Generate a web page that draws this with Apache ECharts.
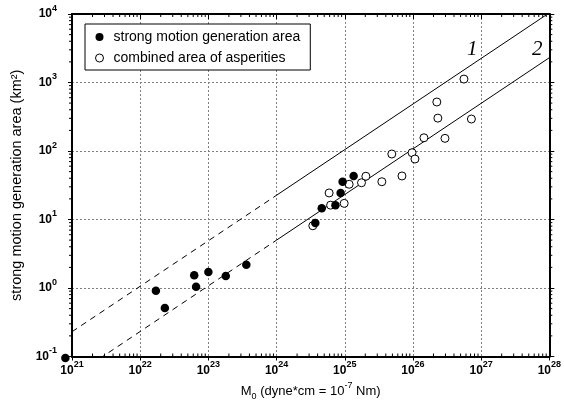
<!DOCTYPE html>
<html>
<head>
<meta charset="utf-8">
<script src="https://cdn.jsdelivr.net/npm/echarts@6/dist/echarts.min.js"></script>
<style>
html,body{margin:0;padding:0;background:#fff;}
#chart{width:564px;height:407px;}
</style>
</head>
<body>
<div id="chart"></div>
<script>
// ---- data ----
const seriesNames = ['strong motion generation area', 'combined area of asperities'];

// strong motion generation area (filled circles): [M0 dyne*cm, area km^2]
const smgaM0   = [8.0e20, 1.7e22, 2.3e22, 6.2e22, 6.6e22, 1.0e23, 1.8e23, 3.6e23, 3.7e24, 4.6e24, 7.3e24, 8.7e24, 9.3e24, 1.35e25];
const smgaArea = [0.095, 0.91, 0.51, 1.53, 1.04, 1.71, 1.50, 2.19, 8.9, 14.6, 16.2, 24.4, 35.6, 43.2];

// combined area of asperities (open circles)
const aspM0   = [3.4e24, 5.9e24, 6.2e24, 9.8e24, 1.16e25, 1.76e25, 2.04e25, 3.5e25, 4.9e25, 6.9e25, 9.7e25, 1.07e26, 1.45e26, 2.95e26, 2.32e26, 2.24e26, 7.2e26, 5.6e26];
const aspArea = [8.1, 24.4, 16.2, 17.2, 32.7, 34.4, 42.8, 35.6, 90.4, 43.2, 94.4, 76.4, 156, 153, 302, 519, 293, 1122];

// reference lines 1 and 2 (dashed part then solid part): [M0, area]
const line1Dashed = [[1e21, 0.23], [1e24, 22.6]];
const line1Solid  = [[1e24, 22.6], [1e28, 1.04e4]];
const line2Dashed = [[1e21, 0.05], [1e24, 5.0]];
const line2Solid  = [[1e24, 5.0], [1e28, 2300]];
const lineLabels = ['1', '2'];

// axes
const xMin = 1e21, xMax = 1e28;
const yMin = 1e-1, yMax = 1e4;
const xTitle = ['M', '0', ' (dyne*cm = 10', '-7', ' Nm)'];
const yTitle = 'strong motion generation area (km\u00B2)';

// ---- build ----
const FONT = 'Liberation Sans, Arial, sans-serif';
function zip(a, b) { return a.map((v, i) => [v, b[i]]); }
function minorTicks(lo, hi) {
  const out = [];
  for (let e = Math.round(Math.log10(lo)); e < Math.round(Math.log10(hi)); e++) {
    for (let m = 2; m <= 9; m++) out.push(m * Math.pow(10, e));
  }
  return out;
}
function powLabel(v) {
  const e = Math.round(Math.log10(v));
  return '{b|10}{s|' + e + '}';
}
const richTick = {
  b: { fontFamily: FONT, fontWeight: 'bold', fontSize: 12, color: '#000', lineHeight: 20, verticalAlign: 'middle' },
  s: { fontFamily: FONT, fontWeight: 'bold', fontSize: 9, color: '#000', lineHeight: 20, verticalAlign: 'top' }
};
const black = '#000';
const gridLine = { show: true, lineStyle: { color: '#808080', width: 1, type: [2, 2] } };

const chart = echarts.init(document.getElementById('chart'), null, { renderer: 'canvas' });

const minorX = minorTicks(xMin, xMax);
const minorY = minorTicks(yMin, yMax);

const option = {
  backgroundColor: '#fff',
  animation: false,
  textStyle: { fontFamily: FONT },
  grid: { left: 72, right: 13, top: 14, bottom: 50.5, containLabel: false },
  legend: {
    data: [
      { name: seriesNames[0], icon: 'circle', itemStyle: { color: black, borderWidth: 0 } },
      { name: seriesNames[1], icon: 'circle', itemStyle: { color: '#fff', borderColor: black, borderWidth: 1 } }
    ],
    orient: 'vertical',
    left: 85, top: 24,
    itemWidth: 8, itemHeight: 8,
    itemGap: 7,
    padding: [6, 10, 5, 10],
    borderColor: black, borderWidth: 1,
    backgroundColor: '#fff',
    textStyle: { fontSize: 14, color: black, padding: [0, 0, 0, 5], fontFamily: FONT }
  },
  xAxis: [
    {
      type: 'log', logBase: 10, min: xMin, max: xMax, splitNumber: 7,
      name: '',
      nameLocation: 'middle', nameGap: 24,
      nameTextStyle: { fontSize: 13, color: black, rich: {} },
      axisLine: { show: true, onZero: false, lineStyle: { color: black, width: 2 } },
      axisTick: { show: true, inside: false, length: 4, lineStyle: { color: black, width: 1 } },
      axisLabel: { formatter: powLabel, rich: richTick, margin: 4 },
      splitLine: gridLine
    },
    {
      type: 'log', logBase: 10, min: xMin, max: xMax, splitNumber: 7, position: 'top',
      axisLine: { show: true, onZero: false, lineStyle: { color: black, width: 2 } },
      axisTick: { show: true, inside: true, length: 5, lineStyle: { color: black, width: 1 } },
      axisLabel: { show: false },
      splitLine: { show: false }
    }
  ],
  yAxis: [
    {
      type: 'log', logBase: 10, min: yMin, max: yMax, splitNumber: 5,
      name: yTitle, nameLocation: 'middle', nameGap: 47, nameRotate: 90,
      nameTextStyle: { fontSize: 14.5, color: black, fontFamily: FONT },
      axisLine: { show: true, onZero: false, lineStyle: { color: black, width: 2 } },
      axisTick: { show: true, inside: false, length: 4, lineStyle: { color: black, width: 1 } },
      axisLabel: { formatter: powLabel, rich: richTick, margin: 15 },
      splitLine: gridLine
    },
    {
      type: 'log', logBase: 10, min: yMin, max: yMax, splitNumber: 5, position: 'right',
      axisLine: { show: true, onZero: false, lineStyle: { color: black, width: 2 } },
      axisTick: { show: true, inside: false, length: 5, lineStyle: { color: black, width: 1 } },
      axisLabel: { show: false },
      splitLine: { show: false }
    }
  ],
  series: [
    {
      type: 'custom', name: 'minorX', silent: true, z: 5,
      data: minorX.map(v => [v, yMin]),
      renderItem: function (params, api) {
        const b = api.coord([api.value(0), yMin]);
        const t = api.coord([api.value(0), yMax]);
        return { type: 'group', children: [
          { type: 'line', shape: { x1: b[0], y1: b[1], x2: b[0], y2: b[1] - 3 }, style: { stroke: black, lineWidth: 1 } },
          { type: 'line', shape: { x1: t[0], y1: t[1], x2: t[0], y2: t[1] + 3 }, style: { stroke: black, lineWidth: 1 } }
        ] };
      }
    },
    {
      type: 'custom', name: 'minorY', silent: true, z: 5,
      data: minorY.map(v => [xMin, v]),
      renderItem: function (params, api) {
        const l = api.coord([xMin, api.value(1)]);
        const r = api.coord([xMax, api.value(1)]);
        return { type: 'group', children: [
          { type: 'line', shape: { x1: l[0], y1: l[1], x2: l[0] - 3, y2: l[1] }, style: { stroke: black, lineWidth: 1 } },
          { type: 'line', shape: { x1: r[0], y1: r[1], x2: r[0] + 3, y2: r[1] }, style: { stroke: black, lineWidth: 1 } }
        ] };
      }
    },
    { type: 'line', name: 'l1d', data: line1Dashed, symbol: 'none', silent: true, lineStyle: { color: black, width: 1, type: [6, 5] }, z: 3 },
    { type: 'line', name: 'l1s', data: line1Solid, symbol: 'none', silent: true, lineStyle: { color: black, width: 1 }, z: 3 },
    { type: 'line', name: 'l2d', data: line2Dashed, symbol: 'none', silent: true, lineStyle: { color: black, width: 1, type: [6, 5] }, z: 3 },
    { type: 'line', name: 'l2s', data: line2Solid, symbol: 'none', silent: true, lineStyle: { color: black, width: 1 }, z: 3 },
    {
      type: 'scatter', name: seriesNames[1], data: zip(aspM0, aspArea), clip: false,
      symbol: 'circle', symbolSize: 8, z: 4,
      itemStyle: { color: '#fff', borderColor: black, borderWidth: 1, opacity: 1 }
    },
    {
      type: 'scatter', name: seriesNames[0], data: zip(smgaM0, smgaArea), clip: false,
      symbol: 'circle', symbolSize: 8.5, z: 4,
      itemStyle: { color: black, borderWidth: 0, opacity: 1 }
    }
  ],
  graphic: [
    { type: 'text', left: 467, top: 39, z: 10, style: { text: lineLabels[0], font: 'italic 21px "Liberation Serif", "Times New Roman", serif', fill: black } },
    { type: 'text', left: 532, top: 39, z: 10, style: { text: lineLabels[1], font: 'italic 21px "Liberation Serif", "Times New Roman", serif', fill: black } }
  ]
};

// x-axis title with sub/superscripts
option.xAxis[0].name = '{t|' + xTitle[0] + '}{sub|' + xTitle[1] + '}{t|' + xTitle[2] + '}{sup|' + xTitle[3] + '}{t|' + xTitle[4] + '}';
option.xAxis[0].nameTextStyle.rich = {
  t:   { fontSize: 13, color: black, lineHeight: 20, verticalAlign: 'middle', fontFamily: FONT },
  sub: { fontSize: 9, color: black, lineHeight: 20, verticalAlign: 'bottom', fontFamily: FONT },
  sup: { fontSize: 9, color: black, lineHeight: 20, verticalAlign: 'top', fontFamily: FONT }
};

chart.setOption(option);
</script>
</body>
</html>
